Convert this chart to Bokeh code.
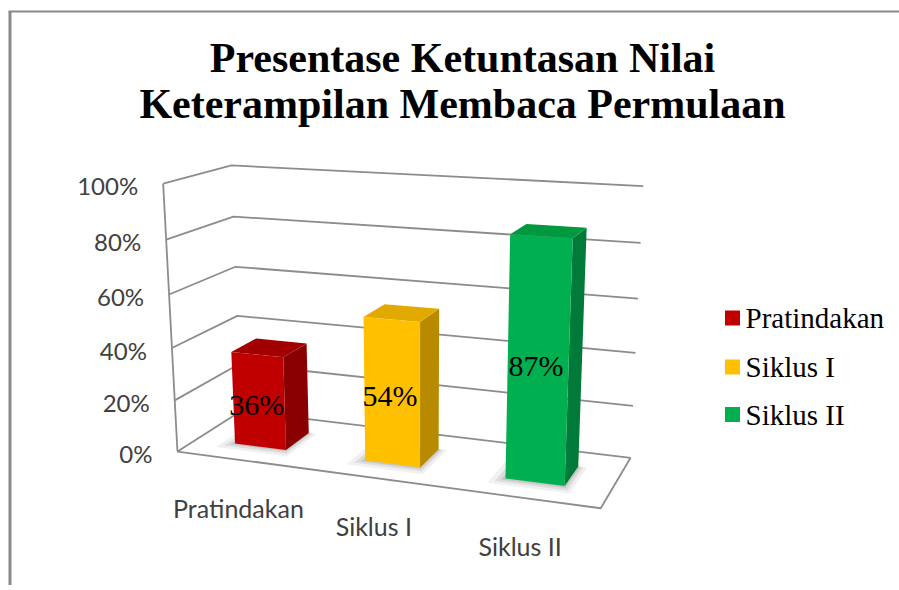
import numpy as np
from bokeh.plotting import figure
from bokeh.models import Range1d
from bokeh.embed import file_html
from bokeh.resources import INLINE
from bokeh.core.properties import value

# ---------------- data ----------------
title_lines = ["Presentase Ketuntasan Nilai", "Keterampilan Membaca Permulaan"]
categories = ["Pratindakan", "Siklus I", "Siklus II"]
values = [36, 54, 87]
data_labels = ["36%", "54%", "87%"]
tick_values = [0, 20, 40, 60, 80, 100]
tick_labels = ["0%", "20%", "40%", "60%", "80%", "100%"]
front_colors = ["#C00000", "#FFC000", "#00B050"]
side_colors = ["#8A0000", "#B88A00", "#007A38"]
top_colors = ["#A20000", "#E2A900", "#00993F"]

# ---------------- 3-D frame calibration (world: category x, value %, depth) ----------------
calib_world = [(0, 100, 0), (0, 80, 0), (0, 60, 0), (0, 40, 0), (0, 20, 0), (0, 0, 0),
               (0, 100, 1), (0, 80, 1), (0, 60, 1), (0, 40, 1), (0, 0, 1),
               (3, 100, 1), (3, 80, 1), (3, 60, 1), (3, 40, 1), (3, 20, 1), (3, 0, 1),
               (3, 0, 0)]
calib_screen = [(161.7, 183.3), (166, 239), (168.3, 293.3), (171.7, 348.3), (175, 399.3), (177, 451),
                (231.7, 165), (232.7, 216), (235, 266.7), (236.7, 315), (240, 411),
                (642.7, 186), (640, 242.3), (637.7, 297.7), (635, 352.3), (632.7, 405.7), (630, 456.7),
                (600, 508.3)]

Wc = np.array(calib_world, float)
Sc = np.array(calib_screen, float) / 500.0
Wn = np.column_stack([Wc[:, 0] / 3.0, Wc[:, 1] / 100.0, Wc[:, 2], np.ones(len(Wc))])
rows = []
for w, (u, v) in zip(Wn, Sc):
    rows.append(np.concatenate([w, np.zeros(4), -u * w]))
    rows.append(np.concatenate([np.zeros(4), w, -v * w]))
_, _, Vt = np.linalg.svd(np.array(rows))
Pm = Vt[-1].reshape(3, 4)


def proj(X, Y, Z):
    h = Pm @ np.array([X / 3.0, Y / 100.0, Z, 1.0])
    return h[0] / h[2] * 500.0, h[1] / h[2] * 500.0


def poly(points):
    pts = [proj(*p) for p in points]
    return [q[0] for q in pts], [q[1] for q in pts]


# ---------------- figure ----------------
H = 585
p = figure(width=899, height=H, output_backend="svg", toolbar_location=None,
           x_range=Range1d(0, 899), y_range=Range1d(H, 0), min_border=0,
           x_axis_type=None, y_axis_type=None)
p.grid.visible = False
p.outline_line_color = None
p.background_fill_color = "white"
p.border_fill_color = "white"

# outer chart border (left & top visible)
p.line([9.5, 9.5], [11, H], line_color="#8a8a8a", line_width=3)
p.line([8, 899], [11, 11], line_color="#8a8a8a", line_width=2)

grid_col = "#8c8c8c"
# gridlines on left wall and back wall
gx, gy = [], []
for t in tick_values:
    xs, ys = poly([(0, t, 0), (0, t, 1), (3, t, 1)])
    gx.append(xs)
    gy.append(ys)
p.multi_line(gx, gy, line_color=grid_col, line_width=1.8)

# value axis line and floor outline
ax_x, ax_y = poly([(0, 0, 0), (0, 100, 0)])
p.line(ax_x, ax_y, line_color=grid_col, line_width=1.8)
fl_x, fl_y = poly([(0, 0, 0), (3, 0, 0), (3, 0, 1)])
p.line(fl_x, fl_y, line_color=grid_col, line_width=1.8)

# bars
gap = 0.3
z0, z1 = 0.3, 0.7
for i, val in enumerate(values):
    x0, x1 = i + gap, i + 1 - gap
    # soft shadow on floor
    for k, a in [(0.06, 0.06), (0.035, 0.08), (0.015, 0.10)]:
        sx, sy = poly([(x0 - k * 1.5, 0, z0 - k * 2), (x1 + k, 0, z0 - k * 2),
                       (x1 + k, 0, z1), (x0 - k * 1.5, 0, z1)])
        p.patch(sx, sy, fill_color="#000000", fill_alpha=a, line_color=None)
    sxs, sys_ = poly([(x1, 0, z0), (x1, 0, z1), (x1, val, z1), (x1, val, z0)])
    p.patch(sxs, sys_, fill_color=side_colors[i], line_color=None)
    txs, tys = poly([(x0, val, z0), (x1, val, z0), (x1, val, z1), (x0, val, z1)])
    p.patch(txs, tys, fill_color=top_colors[i], line_color=None)
    fxs, fys = poly([(x0, 0, z0), (x1, 0, z0), (x1, val, z0), (x0, val, z0)])
    p.patch(fxs, fys, fill_color=front_colors[i], line_color=None)

# data labels
lx, ly = [], []
for i, val in enumerate(values):
    cx, cy = proj(i + 0.5, val / 2.0, z0)
    lx.append(cx - 2)
    ly.append(cy + 3)
p.text(lx, ly, text=data_labels, text_font=value("Liberation Serif"), text_font_size="30px",
       text_color="#000000", text_align="center", text_baseline="middle")

# value tick labels
tx, ty = [], []
for t in tick_values:
    ax, ay = proj(0, t, 0)
    tx.append(ax - 25)
    ty.append(ay + 2)
p.text(tx, ty, text=tick_labels, text_font=value("Lato"), text_font_size="24px",
       text_color="#404040", text_align="right", text_baseline="middle")

# category labels
cxs, cys = [], []
for i in range(len(categories)):
    bx, by = proj(i + 0.5, 0, 0)
    cxs.append(bx - 3)
    cys.append(by + 48)
p.text(cxs, cys, text=categories, text_font=value("Lato"), text_font_size="25px",
       text_color="#404040", text_align="center", text_baseline="middle")

# legend
leg_y = [317.5, 366.5, 414]
p.rect([732] * 3, leg_y, width=15, height=15, fill_color=front_colors, line_color=None)
p.text([745] * 3, leg_y, text=categories, text_font=value("Liberation Serif"),
       text_font_size="29px", text_color="#000000", text_align="left", text_baseline="middle")

# title
p.text([462, 462], [57, 103], text=title_lines, text_font=value("Liberation Serif"),
       text_font_size="42px", text_font_style="bold", text_color="#000000",
       text_align="center", text_baseline="alphabetic")

open("out.html", "w").write(file_html(p, INLINE))
